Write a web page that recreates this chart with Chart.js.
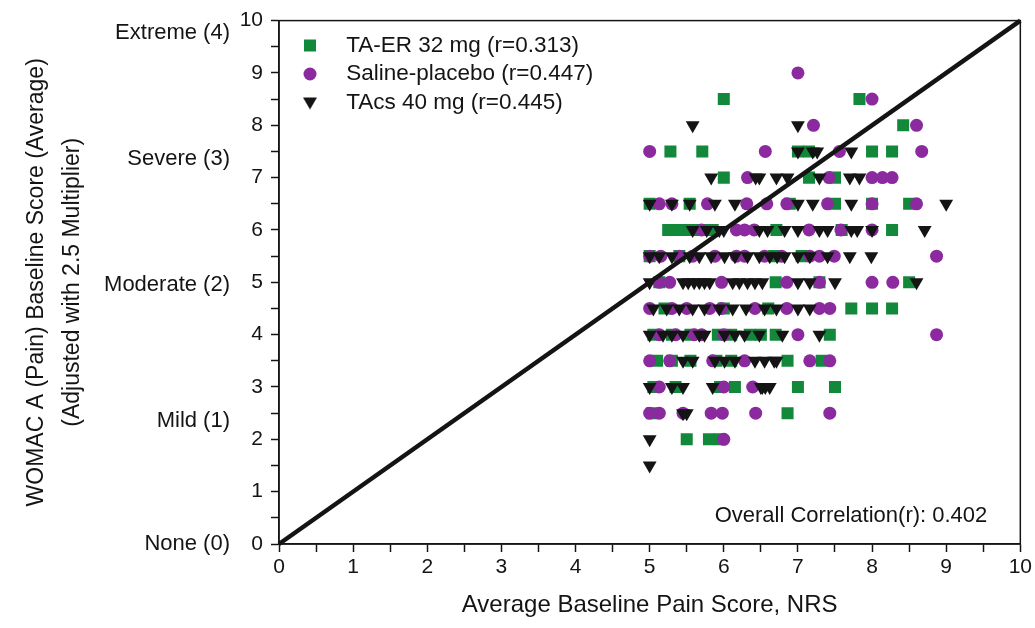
<!DOCTYPE html>
<html>
<head>
<meta charset="utf-8">
<title>WOMAC A vs NRS baseline pain</title>
<script src="https://cdn.jsdelivr.net/npm/chart.js@4.4.1/dist/chart.umd.min.js"></script>
<style>
  html, body { margin: 0; padding: 0; background: #fff; }
  #wrap { width: 1035px; height: 628px; }
</style>
</head>
<body>
<div id="wrap"><canvas id="chart" width="1035" height="628"></canvas></div>
<script>
// ─── Data ───────────────────────────────────────────────────────────────────
// Each row: [WOMAC A score, [average NRS values at that score]]

const taErRows = [
  [8.5, [6.0, 7.83]],
  [8.0, [8.42]],
  [7.5, [5.28, 5.71, 7.0, 7.15, 8.0, 8.27]],
  [7.0, [6.0, 7.15, 7.5]],
  [6.5, [5.0, 5.54, 6.89, 7.5, 8.0, 8.5]],
  [6.0, [5.25, 5.4, 5.55, 5.7, 5.85, 6.71, 7.59, 8.27]],
  [5.5, [5.0, 5.4, 6.68, 7.05]],
  [5.0, [5.13, 6.7, 7.29, 8.5]],
  [4.5, [5.2, 6.0, 6.6, 7.72, 8.0, 8.27]],
  [4.0, [5.05, 5.3, 5.55, 5.92, 6.1, 6.35, 6.5, 6.7, 7.43]],
  [3.5, [5.1, 5.3, 5.55, 5.9, 6.1, 6.86, 7.32]],
  [3.0, [5.05, 5.35, 5.95, 6.15, 7.0, 7.5]],
  [2.5, [5.03, 6.86]],
  [2.0, [5.5, 5.8, 5.95]],
];

const salineRows = [
  [9.0, [7.0]],
  [8.5, [8.0]],
  [8.0, [7.21, 8.6]],
  [7.5, [5.0, 6.56, 7.56, 8.67]],
  [7.0, [6.32, 7.42, 8.0, 8.14, 8.27]],
  [6.5, [5.13, 5.3, 5.78, 6.31, 6.58, 6.85, 7.4, 8.0, 8.6]],
  [6.0, [5.7, 6.17, 6.28, 6.41, 7.15, 7.58, 8.0]],
  [5.5, [5.0, 5.15, 5.4, 5.58, 5.88, 6.17, 6.28, 6.55, 6.78, 7.16, 7.29, 7.49, 8.87]],
  [5.0, [5.13, 5.27, 5.97, 6.85, 7.29, 8.0, 8.28]],
  [4.5, [5.0, 5.3, 5.5, 5.81, 5.97, 6.42, 6.85, 7.29, 7.43]],
  [4.0, [5.13, 5.35, 5.6, 5.7, 6.0, 7.0, 8.87]],
  [3.5, [5.0, 5.27, 5.85, 6.28, 7.16, 7.43]],
  [3.0, [5.13, 6.0, 6.39]],
  [2.5, [5.0, 5.13, 5.45, 5.83, 5.98, 6.43, 7.43]],
  [2.0, [6.0]],
];

const tacsRows = [
  [8.0, [5.58, 7.0]],
  [7.5, [7.0, 7.2, 7.26, 7.72]],
  [7.0, [5.83, 6.43, 6.48, 6.71, 6.86, 7.29, 7.7, 7.83]],
  [6.5, [5.0, 5.3, 5.54, 5.88, 6.15, 7.0, 7.2, 7.72, 9.0]],
  [6.0, [5.58, 5.77, 5.94, 6.0, 6.48, 6.59, 6.82, 7.0, 7.29, 7.4, 7.72, 7.8, 8.0, 8.71]],
  [5.5, [5.0, 5.13, 5.3, 5.54, 5.67, 5.83, 6.01, 6.15, 6.32, 6.48, 6.62, 6.72, 6.82, 7.0, 7.16, 7.4, 7.7, 7.99]],
  [5.0, [5.0, 5.45, 5.52, 5.6, 5.67, 5.74, 5.81, 6.12, 6.21, 6.32, 6.42, 6.52, 7.0, 7.16, 7.5, 8.6]],
  [4.5, [5.05, 5.23, 5.4, 5.58, 5.74, 5.94, 6.12, 6.3, 6.55, 6.71, 7.0, 7.16]],
  [4.0, [5.0, 5.18, 5.3, 5.45, 5.67, 5.74, 6.01, 6.15, 6.28, 6.48, 6.79, 7.29]],
  [3.5, [5.45, 5.58, 5.88, 6.01, 6.15, 6.42, 6.55, 6.68, 6.71]],
  [3.0, [5.0, 5.3, 5.45, 5.85, 6.5, 6.52, 6.56, 6.62]],
  [2.5, [5.45, 5.5]],
  [2.0, [5.0]],
  [1.5, [5.0]],
];

// Line of identity
const identityX = [0, 10];
const identityY = [0, 10];

const seriesLabels = [
  'TA-ER 32 mg (r=0.313)',
  'Saline-placebo (r=0.447)',
  'TAcs 40 mg (r=0.445)',
];

// WOMAC severity labels on the outer left axis and where they sit
const severityLabels = ['None (0)', 'Mild (1)', 'Moderate (2)', 'Severe (3)', 'Extreme (4)'];
const severityPos    = [0, 2.35, 4.95, 7.35, 9.77];

const xTitle = 'Average Baseline Pain Score, NRS';
const yTitle = ['WOMAC A (Pain) Baseline Score (Average)', '(Adjusted with 2.5 Multiplier)'];
const overallText = 'Overall Correlation(r): 0.402';

// ─── Style ──────────────────────────────────────────────────────────────────

const FONT   = "Arial, 'Liberation Sans', Helvetica, sans-serif";
const INK    = '#141414';
const GREEN  = '#12883b';
const PURPLE = '#8b2a9e';

const toPoints = (rows) => rows.flatMap(([y, xs]) => xs.map((x) => ({ x, y })));

function makeIcon(shape, color) {
  const c = document.createElement('canvas');
  c.width = 16; c.height = 16;
  const g = c.getContext('2d');
  g.fillStyle = color;
  g.beginPath();
  if (shape === 'rect') g.rect(2, 2, 12, 12);
  else if (shape === 'circle') g.arc(8, 8, 6.5, 0, Math.PI * 2);
  else { g.moveTo(1, 3); g.lineTo(15, 3); g.lineTo(8, 15); g.closePath(); }
  g.fill();
  return c;
}
const legendIcons = [makeIcon('rect', GREEN), makeIcon('circle', PURPLE), makeIcon('tri', INK)];

// ─── Frame + correlation note ───────────────────────────────────────────────

const frameAndNote = {
  id: 'frameAndNote',
  afterDatasetsDraw(chart) {
    const { ctx, chartArea: a } = chart;
    ctx.save();
    ctx.strokeStyle = INK;
    ctx.lineWidth = 1.5;
    ctx.strokeRect(a.left, a.top, a.right - a.left, a.bottom - a.top);
    ctx.font = `22px ${FONT}`;
    ctx.fillStyle = INK;
    ctx.textAlign = 'right';
    ctx.textBaseline = 'middle';
    ctx.fillText(overallText, a.right - 33, a.bottom - 28);
    ctx.restore();
  },
};

// ─── Chart ──────────────────────────────────────────────────────────────────

const intLabel = (v) => (Number.isInteger(v) ? v : '');

new Chart(document.getElementById('chart'), {
  type: 'scatter',
  data: {
    datasets: [
      {
        label: seriesLabels[0],
        data: toPoints(taErRows),
        pointStyle: 'rect',
        pointRadius: 8.5,
        backgroundColor: GREEN,
        borderColor: GREEN,
        borderWidth: 0,
        order: 3,
      },
      {
        label: seriesLabels[1],
        data: toPoints(salineRows),
        pointStyle: 'circle',
        pointRadius: 6.5,
        backgroundColor: PURPLE,
        borderColor: PURPLE,
        borderWidth: 0,
        order: 2,
      },
      {
        label: seriesLabels[2],
        data: toPoints(tacsRows),
        pointStyle: 'triangle',
        pointRotation: 180,
        pointRadius: 8,
        backgroundColor: INK,
        borderColor: INK,
        borderWidth: 0,
        order: 1,
      },
      {
        label: 'identity',
        data: identityX.map((x, i) => ({ x, y: identityY[i] })),
        showLine: true,
        pointRadius: 0,
        borderColor: INK,
        borderWidth: 4.5,
        clip: false,
        order: 0,
      },
    ],
  },
  options: {
    responsive: false,
    animation: false,
    events: [],
    layout: { padding: { left: 0, top: 19, right: 14, bottom: 0 } },
    plugins: {
      tooltip: { enabled: false },
      legend: {
        position: 'chartArea',
        align: 'start',
        title: { display: true, text: '', padding: { top: 24, bottom: 3 }, font: { size: 1 } },
        labels: {
          usePointStyle: true,
          pointStyleWidth: 50,
          padding: 6,
          color: INK,
          font: { family: FONT, size: 22.5 },
          generateLabels: () => seriesLabels.map((text, i) => ({
            text,
            pointStyle: legendIcons[i],
            fillStyle: 'transparent',
            strokeStyle: 'transparent',
            fontColor: INK,
            lineWidth: 0,
            hidden: false,
            datasetIndex: i,
          })),
        },
      },
    },
    scales: {
      x: {
        type: 'linear',
        position: 'bottom',
        min: 0,
        max: 10,
        afterFit: (s) => { s.height = 84; },
        ticks: {
          stepSize: 0.5,
          autoSkip: false,
          maxRotation: 0,
          padding: 3,
          color: INK,
          font: { family: FONT, size: 21 },
          callback: intLabel,
        },
        grid: { drawOnChartArea: false, tickLength: 8, tickWidth: 1.5, tickColor: INK },
        border: { display: true, color: INK, width: 1.5 },
        title: {
          display: true,
          text: xTitle,
          color: INK,
          font: { family: FONT, size: 24 },
          padding: { top: 0, bottom: 8 },
        },
      },
      y: {
        type: 'linear',
        position: 'left',
        weight: 0,
        min: 0,
        max: 10,
        afterFit: (s) => { s.width = 43; },
        ticks: {
          stepSize: 0.5,
          autoSkip: false,
          padding: 8,
          color: INK,
          font: { family: FONT, size: 21 },
          callback: intLabel,
        },
        grid: { drawOnChartArea: false, tickLength: 8, tickWidth: 1.5, tickColor: INK },
        border: { display: true, color: INK, width: 1.5 },
      },
      ySeverity: {
        type: 'linear',
        position: 'left',
        weight: 1,
        min: 0,
        max: 10,
        afterFit: (s) => { s.width = 236; },
        afterBuildTicks: (s) => { s.ticks = severityPos.map((value) => ({ value })); },
        ticks: {
          autoSkip: false,
          padding: 6,
          color: INK,
          font: { family: FONT, size: 22 },
          callback: (v, i) => severityLabels[i],
        },
        grid: { display: false, drawTicks: false },
        border: { display: false },
        title: {
          display: true,
          text: yTitle,
          color: INK,
          font: { family: FONT, size: 23, lineHeight: 1.55 },
          padding: { top: 19, bottom: 0 },
        },
      },
    },
  },
  plugins: [frameAndNote],
});
</script>
</body>
</html>
